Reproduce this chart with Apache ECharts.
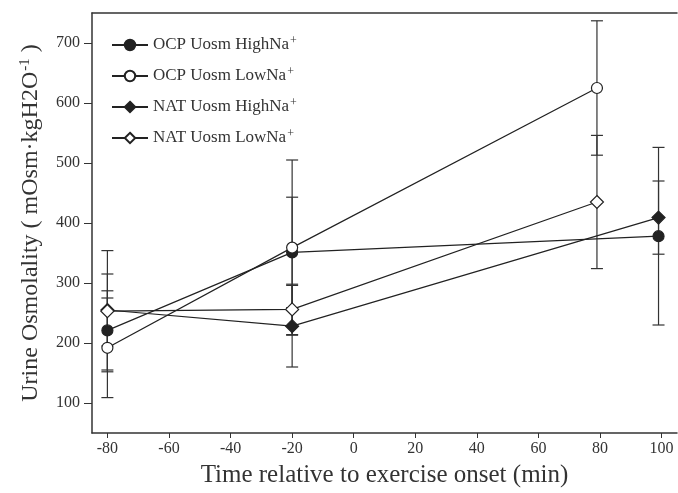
<!DOCTYPE html>
<html>
<head>
<meta charset="utf-8">
<script src="https://cdn.jsdelivr.net/npm/echarts@6/dist/echarts.min.js"></script>
<style>
  html, body { margin: 0; padding: 0; background: #fff; }
  #chart { width: 678px; height: 493px; }
</style>
</head>
<body>
<div id="chart"></div>
<script>
// Sample times (min relative to exercise onset)
const timesLow = [-80, -20, 79];
const timesHigh = [-80, -20, 99];

// Means and error (half-length of bar)
const ocpHighVal = [221, 351, 378];
const ocpHighErr = [66, 92, 148];
const ocpLowVal = [192, 359, 625];
const ocpLowErr = [83, 146, 112];
const natHighVal = [255, 228, 409];
const natHighErr = [60, 68, 61];
const natLowVal = [253, 256, 435];
const natLowErr = [101, 42, 111];

const xTicks = [-80, -60, -40, -20, 0, 20, 40, 60, 80, 100];
const yTicks = [100, 200, 300, 400, 500, 600, 700];

const seriesNames = ['OCP Uosm HighNa', 'OCP Uosm LowNa', 'NAT Uosm HighNa', 'NAT Uosm LowNa'];

const FONT = '"Liberation Serif", "DejaVu Serif", serif';
const INK = '#222';

const chart = echarts.init(document.getElementById('chart'));

function pairs(xs, ys) {
  return xs.map((x, i) => [x, ys[i]]);
}

function errData(xs, ys, es) {
  return xs.map((x, i) => [x, ys[i] - es[i], ys[i] + es[i]]);
}

function errorSeries(name, xs, ys, es) {
  return {
    name: name,
    type: 'custom',
    z: 1,
    silent: true,
    renderItem: function (params, api) {
      const x = api.value(0);
      const lo = api.coord([x, api.value(1)]);
      const hi = api.coord([x, api.value(2)]);
      const w = 6;
      const style = { stroke: '#333', lineWidth: 1.2 };
      return {
        type: 'group',
        children: [
          { type: 'line', shape: { x1: lo[0], y1: lo[1], x2: hi[0], y2: hi[1] }, style: style },
          { type: 'line', shape: { x1: lo[0] - w, y1: lo[1], x2: lo[0] + w, y2: lo[1] }, style: style },
          { type: 'line', shape: { x1: hi[0] - w, y1: hi[1], x2: hi[0] + w, y2: hi[1] }, style: style }
        ]
      };
    },
    encode: { x: 0, y: [1, 2] },
    data: errData(xs, ys, es)
  };
}

function lineSeries(name, xs, ys, symbol, filled) {
  return {
    name: name,
    type: 'line',
    z: 3,
    data: pairs(xs, ys),
    symbol: symbol,
    symbolSize: symbol === 'diamond' ? 13 : 11,
    showAllSymbol: true,
    lineStyle: { color: INK, width: 1.2 },
    itemStyle: { color: filled ? INK : '#fff', borderColor: INK, borderWidth: 1.2 },
    emphasis: { disabled: true }
  };
}

chart.setOption({
  animation: false,
  backgroundColor: '#fff',
  grid: { left: 92, top: 13, right: 1, bottom: 58 },
  legend: {
    orient: 'vertical',
    left: 106,
    top: 30,
    itemWidth: 36,
    itemHeight: 13,
    itemGap: 9,
    data: seriesNames,
    formatter: function (n) { return '{t|' + n + '}{s|+}'; },
    textStyle: {
      fontFamily: FONT,
      fontSize: 17,
      color: '#333',
      lineHeight: 20,
      rich: {
        t: { fontFamily: FONT, fontSize: 17, color: '#333', lineHeight: 20 },
        s: { fontFamily: FONT, fontSize: 12, color: '#333', verticalAlign: 'top', lineHeight: 20, padding: [0, 0, 10, 1] }
      }
    }
  },
  xAxis: [{
    type: 'value',
    min: -85,
    max: 105,
    name: 'Time relative to exercise onset (min)',
    nameLocation: 'middle',
    nameGap: 30,
    nameTextStyle: { fontFamily: FONT, fontSize: 25, color: '#333' },
    axisLine: { show: true, onZero: false, lineStyle: { color: '#333', width: 1.5 } },
    axisTick: { show: true, length: 5, customValues: xTicks, lineStyle: { color: '#333' } },
    axisLabel: { customValues: xTicks, fontFamily: FONT, fontSize: 16, color: '#333', margin: 8 },
    splitLine: { show: false }
  }, {
    type: 'value',
    position: 'top',
    min: -85,
    max: 105,
    axisLine: { show: true, lineStyle: { color: '#333', width: 1.5 } },
    axisTick: { show: false },
    axisLabel: { show: false },
    splitLine: { show: false }
  }],
  yAxis: {
    type: 'value',
    min: 50,
    max: 750,
    name: '{t|Urine Osmolality ( mOsm·kgH2O}{s|-1}{t| )}',
    nameLocation: 'middle',
    nameGap: 44,
    nameTextStyle: {
      fontFamily: FONT,
      fontSize: 24,
      color: '#333',
      rich: {
        t: { fontFamily: FONT, fontSize: 24, color: '#333', lineHeight: 28 },
        s: { fontFamily: FONT, fontSize: 15, color: '#333', verticalAlign: 'top', lineHeight: 28, padding: [0, 0, 13, 1] }
      }
    },
    axisLine: { show: true, onZero: false, lineStyle: { color: '#333', width: 1.5 } },
    axisTick: { show: true, length: 8, customValues: yTicks, lineStyle: { color: '#333' } },
    axisLabel: { customValues: yTicks, fontFamily: FONT, fontSize: 16, color: '#333', margin: 12 },
    splitLine: { show: false }
  },
  series: [
    errorSeries('ocpHighErr', timesHigh, ocpHighVal, ocpHighErr),
    errorSeries('ocpLowErr', timesLow, ocpLowVal, ocpLowErr),
    errorSeries('natHighErr', timesHigh, natHighVal, natHighErr),
    errorSeries('natLowErr', timesLow, natLowVal, natLowErr),
    lineSeries(seriesNames[0], timesHigh, ocpHighVal, 'circle', true),
    lineSeries(seriesNames[1], timesLow, ocpLowVal, 'circle', false),
    lineSeries(seriesNames[2], timesHigh, natHighVal, 'diamond', true),
    lineSeries(seriesNames[3], timesLow, natLowVal, 'diamond', false)
  ]
});
</script>
</body>
</html>
